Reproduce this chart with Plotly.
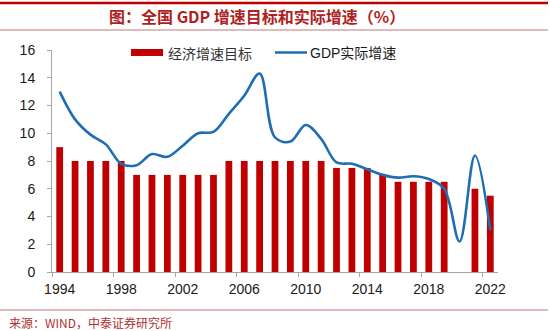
import plotly.graph_objects as go

years = list(range(1994, 2023))
target = [9, 8, 8, 8, 8, 7, 7, 7, 7, 7, 7, 8, 8, 8, 8, 8, 8, 8, 7.5, 7.5, 7.5, 7, 6.5, 6.5, 6.5, 6.5, None, 6, 5.5]
actual = [13.0, 11.0, 9.9, 9.2, 7.8, 7.7, 8.5, 8.3, 9.1, 10.0, 10.1, 11.4, 12.7, 14.3, 9.7, 9.4, 10.6, 9.6, 7.9, 7.8, 7.4, 7.0, 6.8, 6.9, 6.7, 6.0, 2.2, 8.4, 3.0]
x_labels = [1994, 1998, 2002, 2006, 2010, 2014, 2018, 2022]
y_ticks = list(range(0, 17, 2))

RED = "#C00000"
BLUE = "#1F6DB3"
CJK = "Noto Sans CJK SC"

fig = go.Figure()
fig.add_trace(go.Bar(x=years, y=target, width=0.44, marker=dict(color=RED, line=dict(width=0)),
                     name="经济增速目标", showlegend=False))
fig.add_trace(go.Scatter(x=years, y=actual, mode="lines", line=dict(color=BLUE, width=2.6, shape="spline", smoothing=1),
                         name="GDP实际增速", showlegend=False))

fig.update_layout(
    width=550, height=331,
    margin=dict(l=52, r=52, t=50, b=59),
    paper_bgcolor="white", plot_bgcolor="white",
    font=dict(family="Liberation Sans, Arial", size=14, color="#1a1a1a"),
    xaxis=dict(range=[1993.5, 2022.5], tickvals=x_labels, ticktext=[str(v) for v in x_labels],
               ticks="", showgrid=False, zeroline=False, showline=True, linecolor="#A6A6A6", linewidth=1,
               tickfont=dict(size=14, color="#1a1a1a"), ticklabelstandoff=4,
               minor=dict(tickvals=[1993.5 + 4 * i for i in range(8)], ticks="outside", ticklen=4,
                          tickcolor="#A6A6A6", tickwidth=1, showgrid=False)),
    yaxis=dict(range=[0, 16], tickvals=y_ticks, ticks="outside", ticklen=4, tickcolor="#A6A6A6",
               showgrid=False, zeroline=False, showline=True, linecolor="#A6A6A6", linewidth=1,
               tickfont=dict(size=14, color="#1a1a1a"), ticklabelstandoff=9),
)

def px_x(x):
    return (x - 52) / 446

def px_y(y):
    return (272 - y) / 222

shapes = [
    dict(type="line", xref="paper", yref="paper", x0=px_x(0), x1=px_x(548), y0=px_y(3), y1=px_y(3),
         line=dict(color=RED, width=2.5)),
    dict(type="line", xref="paper", yref="paper", x0=px_x(0), x1=px_x(548), y0=px_y(30), y1=px_y(30),
         line=dict(color="#D4A5A5", width=1.5)),
    dict(type="line", xref="paper", yref="paper", x0=px_x(0), x1=px_x(548), y0=px_y(310), y1=px_y(310),
         line=dict(color="#D4A5A5", width=1.5)),
    dict(type="rect", xref="paper", yref="paper", x0=px_x(131), x1=px_x(163), y0=px_y(56), y1=px_y(49),
         fillcolor=RED, line=dict(width=0)),
    dict(type="line", xref="paper", yref="paper", x0=px_x(275), x1=px_x(307), y0=px_y(52.5), y1=px_y(52.5),
         line=dict(color=BLUE, width=2.5)),
]
annotations = [
    dict(text="图：全国 <b>GDP</b> 增速目标和实际增速（%）", xref="paper", yref="paper", x=px_x(257), y=px_y(16),
         xanchor="center", yanchor="middle", showarrow=False,
         font=dict(family=CJK, size=16, color="#B01E24", weight="bold")),
    dict(text="经济增速目标", xref="paper", yref="paper", x=px_x(166), y=px_y(53),
         xanchor="left", yanchor="middle", showarrow=False, font=dict(family=CJK, size=14, color="#333333")),
    dict(text="GDP实际增速", xref="paper", yref="paper", x=px_x(308), y=px_y(53),
         xanchor="left", yanchor="middle", showarrow=False, font=dict(family="Liberation Sans, " + CJK, size=14, color="#1a1a1a")),
    dict(text="来源：WIND，中泰证券研究所", xref="paper", yref="paper", x=px_x(7), y=px_y(322),
         xanchor="left", yanchor="middle", showarrow=False, font=dict(family=CJK, size=12, color="#B03030")),
]
fig.update_layout(shapes=shapes, annotations=annotations)

fig.write_html("out.html")
